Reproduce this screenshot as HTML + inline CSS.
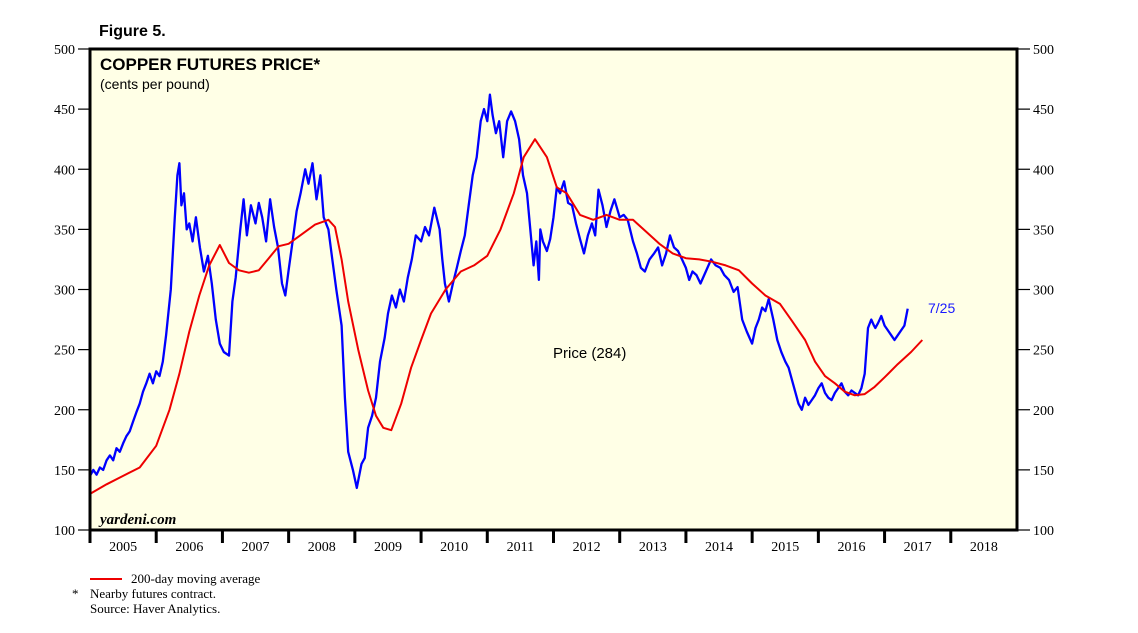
<!DOCTYPE html>
<html><head><meta charset="utf-8">
<style>
body{margin:0;background:#fff;width:1138px;height:633px;overflow:hidden;font-family:"Liberation Sans",sans-serif;}
svg{display:block}
.serif{font-family:"Liberation Serif",serif}
</style></head>
<body>
<svg id="chart" width="1138" height="633" xmlns="http://www.w3.org/2000/svg">
<text x="99" y="36" font-size="16" font-weight="bold">Figure 5.</text>
<rect x="90" y="49" width="927" height="481" fill="#ffffe6"/>
<g id="grid"></g>
<g id="series"></g>
<rect x="90" y="49" width="927" height="481" fill="none" stroke="#000" stroke-width="3"/>
<text x="100" y="70" font-size="17" font-weight="bold">COPPER FUTURES PRICE*</text>
<text x="100" y="89" font-size="14">(cents per pound)</text>
<text x="100" y="524" font-size="15" font-style="italic" font-weight="bold" class="serif">yardeni.com</text>
<text x="553" y="358" font-size="15">Price (284)</text>
<text x="928" y="313" font-size="14" fill="#1a1aff">7/25</text>
<line x1="90" y1="579" x2="122" y2="579" stroke="#e00" stroke-width="2"/>
<text x="131" y="583" font-size="13" class="serif">200-day moving average</text>
<text x="72" y="598" font-size="13" class="serif">*</text>
<text x="90" y="598" font-size="13" class="serif">Nearby futures contract.</text>
<text x="90" y="613" font-size="13" class="serif">Source: Haver Analytics.</text>
</svg>
<script>
const yTicks=[100,150,200,250,300,350,400,450,500];
const years=[2005,2006,2007,2008,2009,2010,2011,2012,2013,2014,2015,2016,2017,2018];
const priceT=[2005.0,2005.05,2005.1,2005.15,2005.2,2005.25,2005.3,2005.35,2005.4,2005.45,2005.5,2005.55,2005.6,2005.65,2005.7,2005.75,2005.8,2005.85,2005.9,2005.95,2006.0,2006.05,2006.1,2006.15,2006.22,2006.28,2006.32,2006.35,2006.38,2006.42,2006.46,2006.5,2006.55,2006.6,2006.66,2006.72,2006.78,2006.84,2006.9,2006.96,2007.02,2007.1,2007.15,2007.2,2007.27,2007.32,2007.37,2007.43,2007.5,2007.55,2007.6,2007.66,2007.72,2007.78,2007.84,2007.9,2007.95,2008.0,2008.06,2008.12,2008.18,2008.25,2008.3,2008.36,2008.42,2008.48,2008.53,2008.6,2008.66,2008.72,2008.8,2008.85,2008.9,2008.97,2009.03,2009.1,2009.15,2009.2,2009.26,2009.32,2009.38,2009.45,2009.5,2009.56,2009.62,2009.68,2009.74,2009.8,2009.86,2009.92,2010.0,2010.06,2010.12,2010.2,2010.28,2010.32,2010.36,2010.42,2010.48,2010.54,2010.6,2010.66,2010.72,2010.78,2010.84,2010.9,2010.95,2011.0,2011.04,2011.08,2011.13,2011.18,2011.24,2011.3,2011.36,2011.42,2011.48,2011.54,2011.6,2011.65,2011.7,2011.74,2011.78,2011.8,2011.84,2011.9,2011.95,2012.0,2012.05,2012.1,2012.16,2012.22,2012.28,2012.34,2012.4,2012.46,2012.52,2012.58,2012.63,2012.68,2012.74,2012.8,2012.86,2012.92,2013.0,2013.06,2013.12,2013.2,2013.26,2013.32,2013.38,2013.45,2013.52,2013.58,2013.64,2013.7,2013.76,2013.82,2013.88,2013.94,2014.0,2014.05,2014.1,2014.16,2014.22,2014.3,2014.38,2014.45,2014.52,2014.58,2014.65,2014.72,2014.78,2014.85,2014.92,2015.0,2015.05,2015.1,2015.15,2015.2,2015.25,2015.32,2015.38,2015.44,2015.5,2015.55,2015.6,2015.65,2015.7,2015.75,2015.8,2015.85,2015.9,2015.95,2016.0,2016.05,2016.1,2016.15,2016.2,2016.25,2016.3,2016.35,2016.4,2016.45,2016.5,2016.55,2016.6,2016.65,2016.7,2016.75,2016.8,2016.84,2016.86,2016.9,2016.95,2017.0,2017.05,2017.1,2017.15,2017.2,2017.25,2017.3,2017.35,2017.4,2017.45,2017.5,2017.54,2017.57];
const priceV=[145,150,146,152,150,158,162,158,168,165,172,178,182,190,198,205,215,222,230,222,232,228,240,262,300,360,395,405,370,380,350,355,340,360,335,315,328,305,275,255,248,245,290,310,350,375,345,370,355,372,360,340,375,352,335,305,295,316,340,365,380,400,388,405,375,395,360,350,325,300,270,210,165,150,135,155,160,185,195,210,240,260,280,295,285,300,290,310,325,345,340,352,345,368,350,325,305,290,305,318,332,345,370,395,410,440,450,440,462,445,430,440,410,440,448,440,425,395,380,350,320,340,308,350,340,332,342,360,385,380,390,372,370,355,342,330,345,355,345,383,370,352,365,375,360,362,358,340,330,318,315,325,330,335,320,330,345,335,332,325,318,308,315,312,305,315,325,320,318,312,308,298,302,275,265,255,268,275,285,282,292,275,258,248,240,235,225,215,205,200,210,204,208,212,218,222,214,210,208,214,218,222,215,212,216,214,212,218,230,268,275,270,268,272,278,270,266,262,258,262,266,270,284];
const maT=[2005.0,2005.25,2005.5,2005.75,2006.0,2006.2,2006.35,2006.5,2006.65,2006.8,2006.96,2007.1,2007.25,2007.4,2007.55,2007.7,2007.85,2008.0,2008.2,2008.4,2008.5,2008.6,2008.7,2008.8,2008.9,2009.05,2009.2,2009.32,2009.43,2009.55,2009.7,2009.85,2010.0,2010.15,2010.37,2010.6,2010.8,2011.0,2011.2,2011.4,2011.55,2011.72,2011.9,2012.05,2012.2,2012.4,2012.6,2012.8,2013.0,2013.2,2013.4,2013.6,2013.8,2014.0,2014.2,2014.4,2014.6,2014.8,2015.0,2015.2,2015.42,2015.6,2015.8,2015.95,2016.1,2016.25,2016.4,2016.55,2016.7,2016.85,2017.0,2017.2,2017.4,2017.57];
const maV=[130,138,145,152,170,200,230,265,295,320,337,322,316,314,316,326,336,338,346,354,356,358,352,325,290,250,216,195,185,183,205,235,258,280,300,315,320,328,350,380,410,425,410,385,380,362,358,362,358,358,348,338,330,326,325,323,320,316,305,295,288,274,258,240,228,222,215,212,213,219,227,238,248,258];

const X0=90,W=927,Y0=530,H=481,T0=2005,T1=2019;
function xs(t){return X0+(t-T0)/(T1-T0)*W;}
function ys(v){return Y0-(v-100)/400*H;}
const NS="http://www.w3.org/2000/svg";
const svg=document.getElementById('chart');
const grid=document.getElementById('grid');
const series=document.getElementById('series');
function mk(tag,attrs,parent){const e=document.createElementNS(NS,tag);for(const k in attrs)e.setAttribute(k,attrs[k]);parent.appendChild(e);return e;}

yTicks.forEach(v=>{
  const y=ys(v);
  const l=mk('line',{x1:78,x2:90,y1:y,y2:y,stroke:'#000','stroke-width':1.2},grid);
  
  
  const r=mk('line',{x1:1017,x2:1030,y1:y,y2:y,stroke:'#000','stroke-width':1.2},grid);
  
  
  const tl=mk('text',{x:75,y:y+5,'font-size':14,'text-anchor':'end','font-family':'Liberation Serif, serif'},svg);
  tl.textContent=v;
  
  
  const tr=mk('text',{x:1033,y:y+5,'font-size':14,'font-family':'Liberation Serif, serif'},svg);
  tr.textContent=v;
  
  
});
years.forEach(yr=>{
  const x=xs(yr);
  const t=mk('line',{x1:x,x2:x,y1:530,y2:543,stroke:'#000','stroke-width':3},svg);
  
  
  const lb=mk('text',{x:xs(yr+0.5),y:551,'font-size':14,'text-anchor':'middle','font-family':'Liberation Serif, serif'},svg);
  lb.textContent=yr;
  
  
});
function path(T,V){return T.map((t,i)=>(i?'L':'M')+xs(t).toFixed(1)+','+ys(V[i]).toFixed(1)).join('');}
const p=mk('path',{d:path(priceT,priceV),fill:'none',stroke:'#0000ff','stroke-width':2.3,'stroke-linejoin':'round'},series);


const m=mk('path',{d:path(maT,maV),fill:'none',stroke:'#ee0000','stroke-width':2,'stroke-linejoin':'round'},series);


</script>
</body></html>
